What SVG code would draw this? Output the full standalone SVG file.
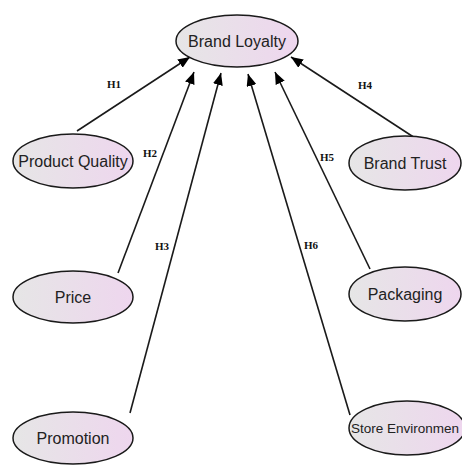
<svg xmlns="http://www.w3.org/2000/svg" width="462" height="465" viewBox="0 0 462 465">
<defs>
<linearGradient id="g" x1="0" y1="0" x2="1" y2="0">
<stop offset="0" stop-color="#e6e6e6"/>
<stop offset="1" stop-color="#eed6ee"/>
</linearGradient>
<marker id="ah" viewBox="0 0 12 10" refX="12" refY="5" markerWidth="12" markerHeight="10" markerUnits="userSpaceOnUse" orient="auto">
<path d="M0,0 L12,5 L0,10 Z" fill="#000"/>
</marker>
<style>
.n ellipse{fill:url(#g);stroke:#1a1a1a;stroke-width:1.5}
.n text{font-family:"Liberation Sans",Arial,sans-serif;font-size:16px;fill:#222;text-anchor:middle}
.c line{stroke:#1a1a1a;stroke-width:1.6;marker-end:url(#ah)}
.c text{font-family:"Liberation Serif","Times New Roman",serif;font-size:11px;font-weight:bold;fill:#111}
</style>
</defs>
<rect width="462" height="465" fill="#fff"/>
<g class="c" id="connectors">
<line x1="77" y1="131" x2="190" y2="57"/>
<line x1="118" y1="273" x2="194" y2="72"/>
<line x1="130" y1="413" x2="221" y2="73"/>
<line x1="415" y1="138" x2="291" y2="57"/>
<line x1="370" y1="269" x2="275" y2="72"/>
<line x1="350" y1="415" x2="248" y2="74"/>
<text x="107" y="88">H1</text>
<text x="143" y="157">H2</text>
<text x="155" y="250">H3</text>
<text x="358" y="89">H4</text>
<text x="320" y="161">H5</text>
<text x="304" y="249">H6</text>
</g>
<g class="n" id="brand-loyalty"><ellipse cx="237" cy="41" rx="61" ry="26"/><text x="237" y="47">Brand Loyalty</text></g>
<g class="n" id="product-quality"><ellipse cx="73" cy="161" rx="60" ry="27"/><text x="73" y="167">Product Quality</text></g>
<g class="n" id="price"><ellipse cx="73" cy="297" rx="60" ry="26"/><text x="73" y="303">Price</text></g>
<g class="n" id="promotion"><ellipse cx="73" cy="438" rx="60" ry="26"/><text x="73" y="444">Promotion</text></g>
<g class="n" id="brand-trust"><ellipse cx="405" cy="163" rx="56" ry="27"/><text x="405" y="169">Brand Trust</text></g>
<g class="n" id="packaging"><ellipse cx="405" cy="294" rx="56" ry="27"/><text x="405" y="300">Packaging</text></g>
<g class="n" id="store-environment"><ellipse cx="407" cy="428" rx="58" ry="27"/><text x="351" y="433" style="text-anchor:start;font-size:13.5px">Store Environmen</text></g>
</svg>
